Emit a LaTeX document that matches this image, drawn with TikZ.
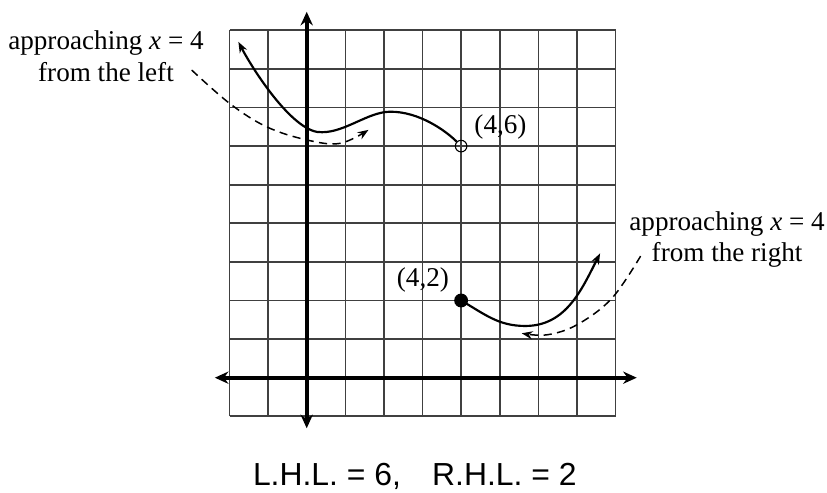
\documentclass[tikz,border=0pt]{standalone}
\usepackage{fontspec}
\setmainfont{Liberation Serif}
\newfontfamily\capfont{Liberation Sans}
\usetikzlibrary{arrows.meta}

\begin{document}
\begin{tikzpicture}[
    gridline/.style={black!75, line width=1.2pt},
    axis/.style={line width=3pt, {Stealth[length=10pt,width=9pt]}-{Stealth[length=10pt,width=9pt]}},
    curve/.style={line width=1.6pt},
    approach/.style={line width=1.1pt, dash pattern=on 6pt off 4pt},
    lbl/.style={font=\fontsize{20}{23}\selectfont, align=center}
]
    \useasboundingbox (-7.946,-2.987) rectangle (13.479,9.785);

    % Grid and axes
    \draw[gridline] (-2,-1) grid (8,9);
    \draw[axis] (-2.38,0) -- (8.55,0);
    \draw[axis] (0,-1.31) -- (0,9.48);

    % End points
    \node[circle, draw, line width=0.8pt, inner sep=0pt, minimum size=0.3cm] (open) at (4,6) {};
    \node[circle, fill, inner sep=0pt, minimum size=0.36cm] (closed) at (4,2) {};
    \node[lbl] (openlbl) at (5.02,6.5) {(4,6)};
    \node[lbl] (closedlbl) at (3.01,2.53) {(4,2)};

    % Left piece
    \draw[curve, {Stealth[length=8pt,width=6pt]}-] (-1.77,8.70)
        .. controls (-1.35,7.9) and (-0.3,6.3) .. (0.4,6.36)
        .. controls (1.0,6.36) and (1.6,6.89) .. (2.16,6.89)
        .. controls (2.9,6.9) and (3.6,6.4) .. (open);

    % Right piece
    \draw[curve, -{Stealth[length=8pt,width=6pt]}] (closed.center)
        to[out=-30, in=180] (5.66,1.34)
        to[out=0, in=-117] (7.6,3.22);

    % Approach from the left
    \node[lbl] (leftlbl) at (-5.2,8.33) {approaching \textit{x} = 4\\from the left};
    \draw[approach, -{Stealth[length=8pt,width=6pt]}] plot[smooth, tension=0.6] coordinates
        {(-2.98,7.97) (-1.99,7.1) (-1.04,6.5) (0,6.16) (0.86,6.07) (1.6,6.42)};

    % Approach from the right
    \node[lbl] (rightlbl) at (10.89,3.57) {approaching \textit{x} = 4\\from the right};
    \draw[approach, -{Stealth[length=8pt,width=6pt]}] plot[smooth, tension=0.6] coordinates
        {(8.65,3.15) (7.9,2.05) (7.0,1.37) (6.22,1.11) (5.57,1.15)};

    % Limits
    \node[font=\capfont\fontsize{23.5}{28}\selectfont] (caption) at (2.8,-2.56)
        {L.H.L. = 6,\hspace{0.7em} R.H.L. = 2};
\end{tikzpicture}
\end{document}
